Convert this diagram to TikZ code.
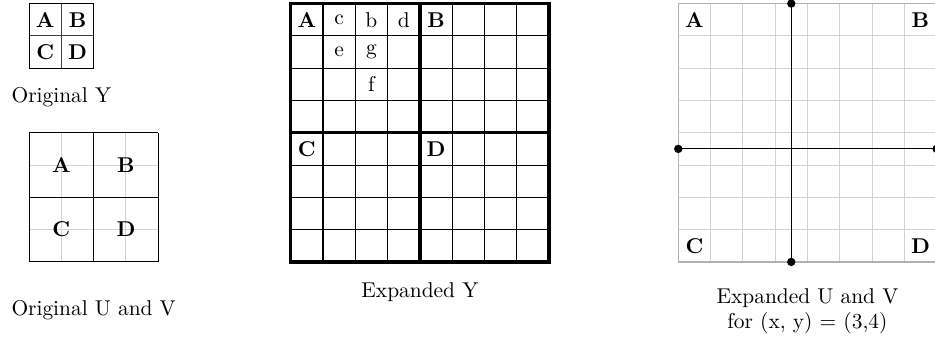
\documentclass[tikz,border=0pt]{standalone}
\usepackage{amsmath, amssymb}
\usepackage{tikz}
\usetikzlibrary{
    arrows.meta,
    calc
}
\tikzset
{
  lightgrid/.style={draw=gray!35,line width=0.5pt,step=1},
  cellgrid/.style={draw=black,line width=0.5pt,step=1},
  blockline/.style={draw=black,line width=1.6pt},
  celltext/.style={font=\bfseries},
  smalltext/.style={font=\normalsize},
  caption/.style={align=center},
  crossdot/.style={fill=black}
}

\begin{document}
\begin{tikzpicture}[x=0.53cm,y=0.53cm]

    \useasboundingbox (0,0) rectangle (28.95,10.56);

    % Sampling point (x, y) in the expanded grid
    \pgfmathsetmacro{\px}{3}
    \pgfmathsetmacro{\py}{4}

    % Draw the original Y
    \draw[cellgrid, draw=black!75, shift={(0.9,8.45)}] (0,0) grid (2,2);
    \draw[cellgrid] (0.9,8.45) rectangle (2.9,10.45);
    \node[celltext] (ya) at (1.4,9.95) {A};
    \node[celltext] (yb) at (2.4,9.95) {B};
    \node[celltext] (yc) at (1.4,8.95) {C};
    \node[celltext] (yd) at (2.4,8.95) {D};
    \node[caption] (capy) at (1.9,7.55) {Original Y};

    % Draw the original U and V
    \draw[lightgrid, shift={(0.9,2.45)}] (0,0) grid (4,4);
    \draw[cellgrid, step=2, shift={(0.9,2.45)}] (0,0) grid (4,4);
    \node[celltext] (uva) at (1.9,5.45) {A};
    \node[celltext] (uvb) at (3.9,5.45) {B};
    \node[celltext] (uvc) at (1.9,3.45) {C};
    \node[celltext] (uvd) at (3.9,3.45) {D};
    \node[caption] (capuv) at (2.9,0.96) {Original U and V};

    % Draw the expanded Y
    \draw[cellgrid, shift={(9,2.45)}] (0,0) grid (8,8);
    \draw[blockline] (9,2.45) rectangle (17,10.45);
    \draw[blockline] (13,2.45) -- (13,10.45);
    \draw[blockline] (9,6.45) -- (17,6.45);
    \node[celltext] (ea) at (9.5,9.95) {A};
    \node[smalltext] (ec) at (10.5,9.95) {c};
    \node[smalltext] (eb) at (11.5,9.95) {b};
    \node[smalltext] (ed) at (12.5,9.95) {d};
    \node[smalltext] (ee) at (10.5,8.95) {e};
    \node[smalltext] (eg) at (11.5,8.95) {g};
    \node[smalltext] (ef) at (11.5,7.95) {f};
    \node[celltext] (eB) at (13.5,9.95) {B};
    \node[celltext] (eC) at (9.5,5.95) {C};
    \node[celltext] (eD) at (13.5,5.95) {D};
    \node[caption] (capey) at (13,1.52) {Expanded Y};

    % Draw the expanded U and V
    \draw[lightgrid, shift={(21,2.45)}] (0,0) grid (8,8);
    \draw[draw=gray!60,line width=0.6pt] (21,2.45) rectangle (29,10.45);
    \node[celltext] (xa) at (21.5,9.95) {A};
    \node[celltext] (xb) at (28.5,9.95) {B};
    \node[celltext] (xc) at (21.5,2.95) {C};
    \node[celltext] (xd) at (28.5,2.95) {D};

    % Lines through the point (x, y)
    \coordinate (top) at (21+\px+0.5,10.45);
    \coordinate (bot) at (21+\px+0.5,2.45);
    \coordinate (lft) at (21,10.45-\py-0.5);
    \coordinate (rgt) at (29,10.45-\py-0.5);
    \draw[thin] (top) -- (bot);
    \draw[thin] (lft) -- (rgt);
    \foreach \c in {top,bot,lft,rgt}
        \fill[crossdot] (\c) circle (0.13);

    \node[caption] (capex) at (25,0.92) {Expanded U and V\\for (x, y) = (3,4)};

\end{tikzpicture}
\end{document}
